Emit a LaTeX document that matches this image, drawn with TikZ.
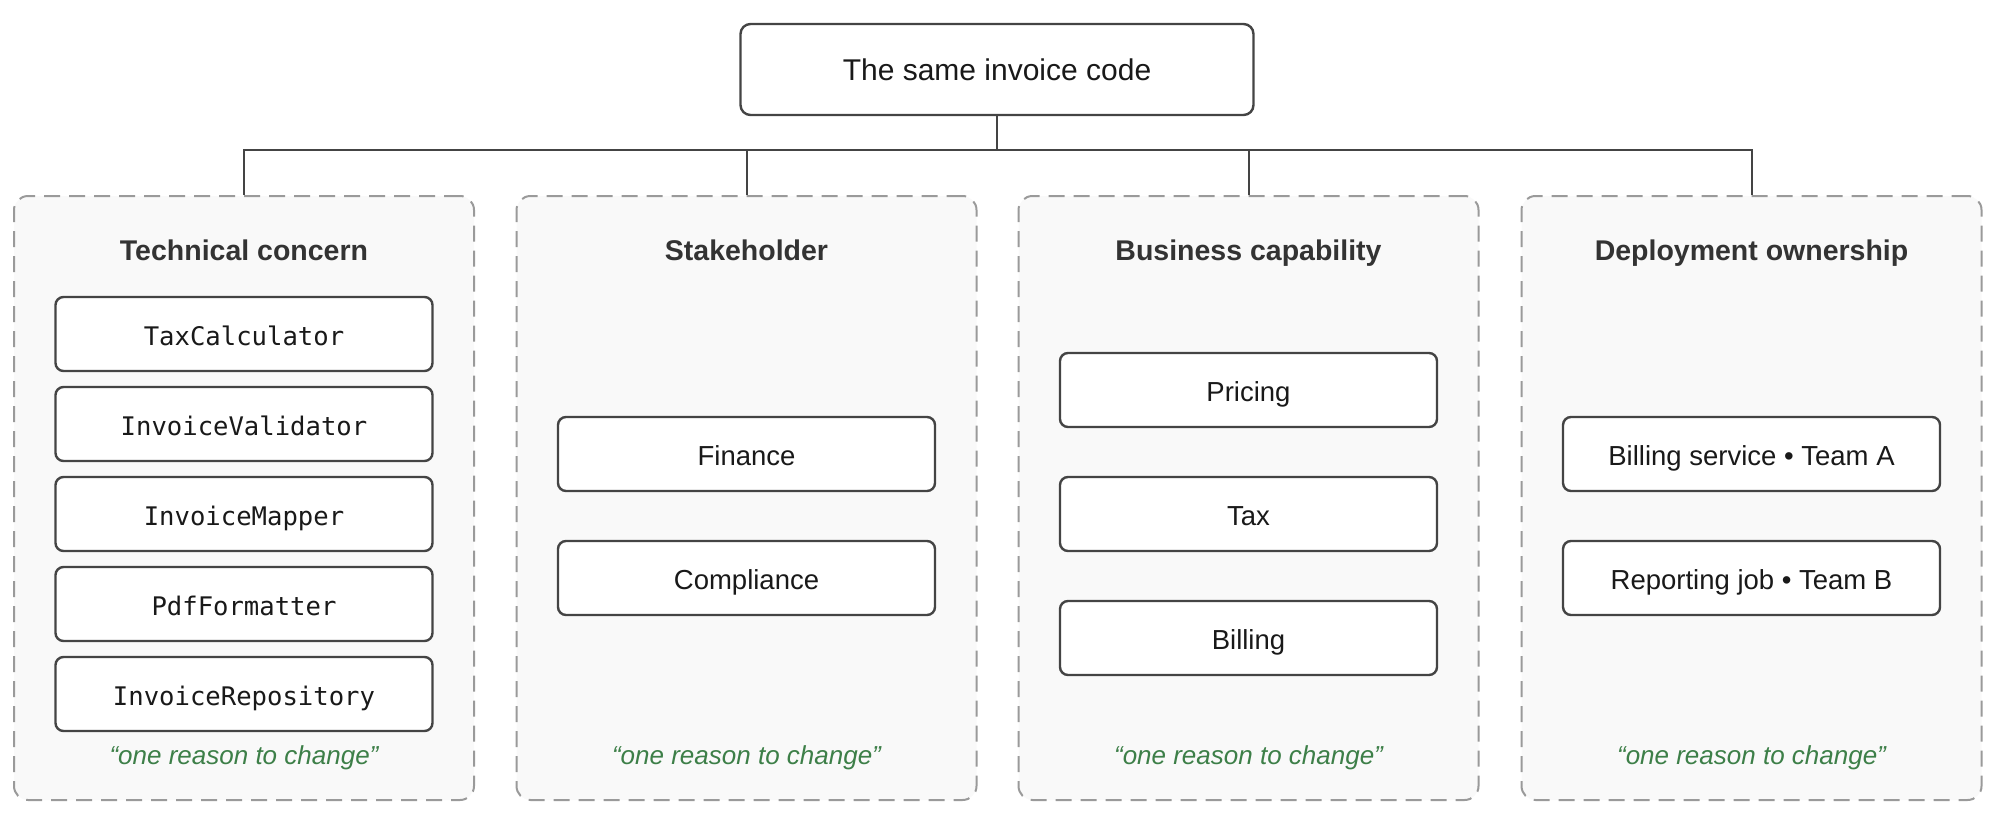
\documentclass[tikz,border=0pt]{standalone}
\usepackage{fontspec}
\setmainfont{Liberation Sans}
\setmonofont{DejaVu Sans Mono}
\usepackage{xcolor}
\usetikzlibrary{positioning,calc}

\definecolor{boxline}{HTML}{444444}
\definecolor{panelfill}{HTML}{F9F9F9}
\definecolor{panelline}{HTML}{9A9A9A}
\definecolor{titletext}{HTML}{333333}
\definecolor{quotegreen}{HTML}{3D7F48}

\begin{document}
\begin{tikzpicture}[
    x=0.5pt, y=-0.5pt,
    topbox/.style={rectangle, draw=boxline, line width=1.2pt, rounded corners=5pt, fill=white, minimum width=256.5pt, minimum height=45.5pt, font=\fontsize{15}{18}\selectfont, text=black!90},
    panel/.style={rectangle, draw=panelline, line width=1pt, dash pattern=on 8pt off 4.5pt, rounded corners=7pt, fill=panelfill, minimum width=230pt, minimum height=302pt},
    paneltitle/.style={font=\fontsize{14.25}{17}\selectfont\bfseries, text=titletext, text height=10.5pt, text depth=3pt},
    unitbox/.style={rectangle, draw=boxline, line width=1.2pt, rounded corners=4pt, fill=white, outer sep=0pt, minimum width=188.5pt, minimum height=37pt, text height=12pt, text depth=1pt, font=\fontsize{13.75}{16}\selectfont, text=black!90},
    codebox/.style={unitbox, font=\ttfamily\fontsize{12.8}{15}\selectfont},
    motto/.style={font=\fontsize{13}{16}\selectfont\itshape, text=quotegreen},
    link/.style={draw=boxline, line width=1pt}
]
\useasboundingbox (0,0) rectangle (2000,835);

% Source
\node[topbox] (code) at (997,69.5) {The same invoice code};

% Panels
\node[panel] (tech) at (244,498) {};
\node[panel] (stake) at (746.5,498) {};
\node[panel] (biz) at (1248.5,498) {};
\node[panel] (deploy) at (1751.5,498) {};

% Panel titles
\node[paneltitle] (techT) at ([yshift=-29pt]tech.north) {Technical concern};
\node[paneltitle] (stakeT) at ([yshift=-29pt]stake.north) {Stakeholder};
\node[paneltitle] (bizT) at ([yshift=-29pt]biz.north) {Business capability};
\node[paneltitle] (deployT) at ([yshift=-29pt]deploy.north) {Deployment ownership};

% Technical concern
\node[codebox] (taxcalc) at ([yshift=-69.5pt]tech.north) {TaxCalculator};
\node[codebox, below=8pt of taxcalc] (validator) {InvoiceValidator};
\node[codebox, below=8pt of validator] (mapper) {InvoiceMapper};
\node[codebox, below=8pt of mapper] (pdf) {PdfFormatter};
\node[codebox, below=8pt of pdf] (repo) {InvoiceRepository};

% Stakeholder
\node[unitbox] (finance) at ([yshift=-129.5pt]stake.north) {Finance};
\node[unitbox, below=25pt of finance] (compliance) {Compliance};

% Business capability
\node[unitbox] (pricing) at ([yshift=-97.5pt]biz.north) {Pricing};
\node[unitbox, below=25pt of pricing] (tax) {Tax};
\node[unitbox, below=25pt of tax] (billing) {Billing};

% Deployment ownership
\node[unitbox] (billsvc) at ([yshift=-129.5pt]deploy.north) {Billing service • Team A};
\node[unitbox, below=25pt of billsvc] (reportjob) {Reporting job • Team B};

% Mottos
\node[motto] (techM) at ([yshift=21.5pt]tech.south) {“one reason to change”};
\node[motto] (stakeM) at ([yshift=21.5pt]stake.south) {“one reason to change”};
\node[motto] (bizM) at ([yshift=21.5pt]biz.south) {“one reason to change”};
\node[motto] (deployM) at ([yshift=21.5pt]deploy.south) {“one reason to change”};

% Connectors
\coordinate (split) at ([yshift=-16.75pt]code.south);
\draw[link] (code.south) -- (split);
\draw[link] (tech.north) |- (split) -| (deploy.north);
\draw[link] (stake.north) -- (stake.north |- split);
\draw[link] (biz.north) -- (biz.north |- split);

\end{tikzpicture}
\end{document}
